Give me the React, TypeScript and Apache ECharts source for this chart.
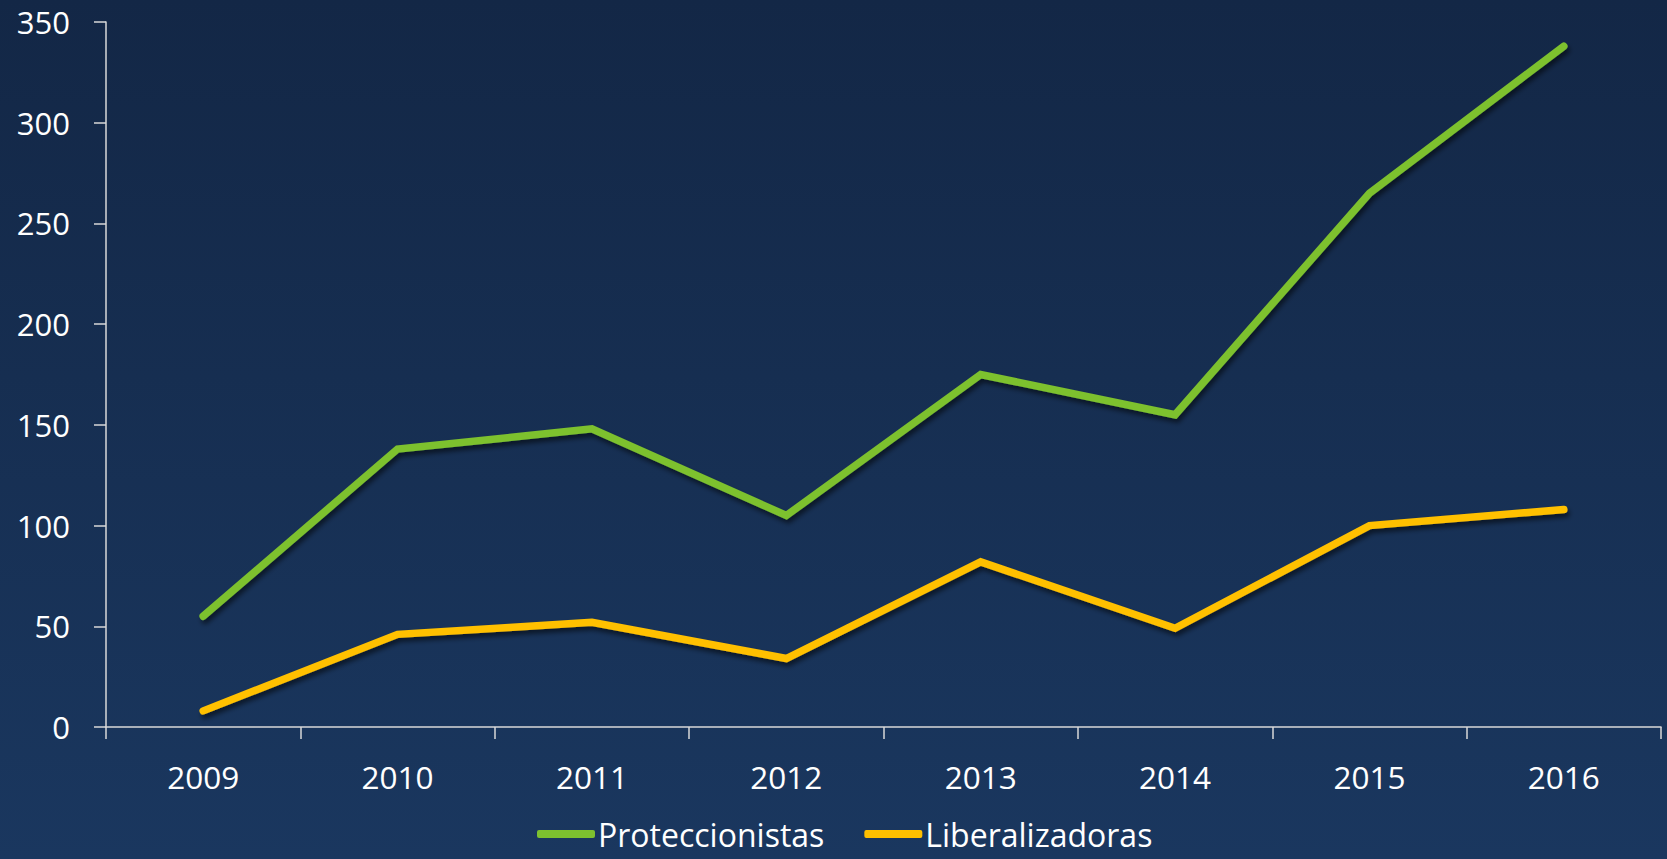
import React, { useEffect, useRef } from "react";
import * as echarts from "echarts";

const years = ["2009", "2010", "2011", "2012", "2013", "2014", "2015", "2016"];
const proteccionistas = [55, 138, 148, 105, 175, 155, 265, 338];
const liberalizadoras = [8, 46, 52, 34, 82, 49, 100, 108];
const yTicks = { min: 0, max: 350, interval: 50 };

const FONT = "'Open Sans', 'Noto Sans', sans-serif";

export default function App() {
  const ref = useRef<HTMLDivElement>(null);
  useEffect(() => {
    document.body.style.margin = "0";
    const chart = echarts.init(ref.current!, null, { renderer: "svg" });
    const shadow = {
      shadowColor: "rgba(0,0,0,0.55)",
      shadowBlur: 5,
      shadowOffsetX: 2,
      shadowOffsetY: 4,
    };
    chart.setOption({
      animation: false,
      backgroundColor: new echarts.graphic.LinearGradient(0, 0, 0, 1, [
        { offset: 0, color: "#132746" },
        { offset: 1, color: "#1a375f" },
      ]),
      textStyle: { fontFamily: FONT },
      grid: { left: 106, right: 6, top: 22, bottom: 132 },
      xAxis: {
        type: "category",
        data: years,
        boundaryGap: true,
        axisLine: { show: true, lineStyle: { color: "#d9d9d9", width: 1.5 } },
        axisTick: { show: true, length: 12, lineStyle: { color: "#d9d9d9", width: 1.5 } },
        axisLabel: { color: "#ffffff", fontSize: 31.5, margin: 33, fontFamily: FONT },
        splitLine: { show: false },
      },
      yAxis: {
        type: "value",
        min: yTicks.min,
        max: yTicks.max,
        interval: yTicks.interval,
        axisLine: { show: true, lineStyle: { color: "#d9d9d9", width: 1.5 } },
        axisTick: { show: true, length: 12, lineStyle: { color: "#d9d9d9", width: 1.5 } },
        axisLabel: { color: "#ffffff", fontSize: 31, margin: 36, fontFamily: FONT },
        splitLine: { show: false },
      },
      legend: {
        left: 537,
        top: 818,
        padding: 0,
        itemGap: 40,
        itemWidth: 58,
        itemHeight: 8,
        icon: "roundRect",
        textStyle: {
          color: "#ffffff",
          fontSize: 32,
          lineHeight: 32,
          fontFamily: FONT,
          padding: [0, 0, 0, -2],
        },
        data: ["Proteccionistas", "Liberalizadoras"],
      },
      series: [
        {
          name: "Proteccionistas",
          type: "line",
          data: proteccionistas,
          showSymbol: false,
          symbol: "none",
          color: "#7dc12f",
          lineStyle: { width: 7.5, color: "#7dc12f", cap: "round", join: "miter", ...shadow },
        },
        {
          name: "Liberalizadoras",
          type: "line",
          data: liberalizadoras,
          showSymbol: false,
          symbol: "none",
          color: "#ffc000",
          lineStyle: { width: 7.5, color: "#ffc000", cap: "round", join: "miter", ...shadow },
        },
      ],
    });
    return () => chart.dispose();
  }, []);
  return (
    <div
      ref={ref}
      style={{ position: "absolute", left: 0, top: 0, width: 1667, height: 859 }}
    />
  );
}
